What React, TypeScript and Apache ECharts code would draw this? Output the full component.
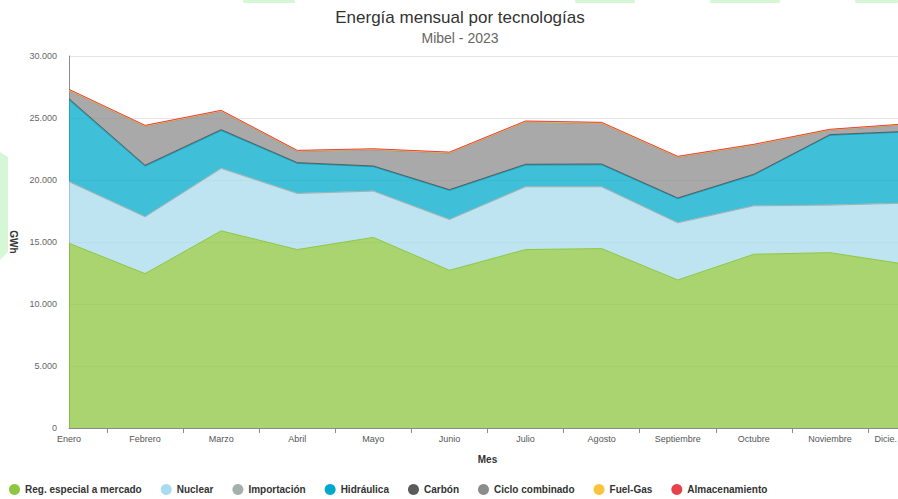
import React, { useEffect, useRef } from 'react';
import * as echarts from 'echarts';

const months = ['Enero', 'Febrero', 'Marzo', 'Abril', 'Mayo', 'Junio', 'Julio', 'Agosto', 'Septiembre', 'Octubre', 'Noviembre', 'Dicie.'];

const regEspecial = [14900, 12450, 15900, 14390, 15370, 12720, 14390, 14470, 11940, 14010, 14140, 13200];
const nuclear = [4940, 4570, 5020, 4510, 3720, 4080, 5050, 4970, 4590, 3890, 3820, 4920];
const importacion = [30, 20, 20, 20, 20, 20, 20, 20, 20, 20, 20, 20];
const hidraulica = [6580, 4060, 3040, 2420, 1960, 2340, 1740, 1760, 1940, 2480, 5620, 5730];
const carbon = [110, 90, 80, 60, 60, 60, 70, 70, 60, 60, 60, 50];
const cicloCombinado = [660, 3140, 1480, 920, 1310, 2950, 3400, 3270, 3280, 2340, 360, 540];
const fuelGas = [30, 30, 30, 30, 30, 30, 30, 30, 30, 30, 30, 30];
const almacenamiento = [60, 50, 50, 40, 50, 50, 60, 60, 50, 50, 40, 40];

const yTicks = [0, 5000, 10000, 15000, 20000, 25000, 30000];

const seriesDefs = [
  { name: 'Reg. especial a mercado', data: regEspecial, color: '#8dc63f' },
  { name: 'Nuclear', data: nuclear, color: '#a8dbee' },
  { name: 'Importación', data: importacion, color: '#a3b0ac' },
  { name: 'Hidráulica', data: hidraulica, color: '#00a9cb' },
  { name: 'Carbón', data: carbon, color: '#5b5b5b' },
  { name: 'Ciclo combinado', data: cicloCombinado, color: '#8c8c8c' },
  { name: 'Fuel-Gas', data: fuelGas, color: '#fbc43c' },
  { name: 'Almacenamiento', data: almacenamiento, color: '#e5434b' },
];

const fmtThousands = (v: number) => String(v).replace(/\B(?=(\d{3})+(?!\d))/g, '.');

export default function App() {
  const ref = useRef<HTMLDivElement>(null);
  useEffect(() => {
    if (!ref.current) return;
    const chart = echarts.init(ref.current, null, { renderer: 'svg' });
    const font = 'Liberation Sans, Arial, Helvetica, sans-serif';
    const last = months.length - 1;
    chart.setOption({
      animation: false,
      backgroundColor: '#ffffff',
      textStyle: { fontFamily: font },
      title: {
        text: 'Energía mensual por tecnologías',
        subtext: 'Mibel - 2023',
        left: 455,
        top: 4,
        textAlign: 'center',
        itemGap: 5,
        textStyle: { fontSize: 17, fontWeight: 'normal', color: '#333333', fontFamily: font },
        subtextStyle: { fontSize: 14, color: '#666666', fontFamily: font },
      },
      legend: {
        left: 9,
        top: 484,
        padding: 0,
        icon: 'circle',
        itemWidth: 11,
        itemHeight: 11,
        itemGap: 19,
        textStyle: { fontSize: 10, fontWeight: 'bold', color: '#333333', fontFamily: font },
        data: seriesDefs.map((s) => s.name),
      },
      graphic: [
        { type: 'polygon', shape: { points: [[0, 152], [8, 157], [8, 252], [0, 260]] }, style: { fill: '#d6f7d6' }, silent: true },
        { type: 'rect', shape: { x: 243, y: 0, width: 52, height: 3, r: 1 }, style: { fill: '#d6f7d6' }, silent: true },
        { type: 'rect', shape: { x: 575, y: 0, width: 60, height: 3, r: 1 }, style: { fill: '#d6f7d6' }, silent: true },
        { type: 'rect', shape: { x: 710, y: 0, width: 70, height: 3, r: 1 }, style: { fill: '#d6f7d6' }, silent: true },
        { type: 'rect', shape: { x: 855, y: 0, width: 43, height: 3, r: 1 }, style: { fill: '#d6f7d6' }, silent: true },
      ],
      grid: { left: 69, right: -8, top: 56, bottom: 71, containLabel: false, outerBoundsMode: 'none' },
      xAxis: [
        {
          type: 'category',
          data: months,
          boundaryGap: false,
          position: 'bottom',
          name: 'Mes',
          nameLocation: 'middle',
          nameGap: 26,
          nameTextStyle: { fontSize: 10, fontWeight: 'bold', color: '#333333', fontFamily: font },
          axisLine: { show: true, lineStyle: { color: '#8a8a8a', width: 1 } },
          axisTick: { show: false },
          splitLine: { show: false },
          axisLabel: {
            interval: 0,
            fontSize: 9,
            color: '#555555',
            margin: 6,
            alignMaxLabel: 'right',
            formatter: (v: string, i: number) => (i === last ? '{r|' + v + '}' : v),
            rich: { r: { fontSize: 9, color: '#555555', padding: [0, 9, 0, 0], fontFamily: font } },
          },
        },
        {
          type: 'value',
          min: 0,
          max: last,
          interval: 1,
          position: 'bottom',
          offset: 0,
          axisLine: { show: false },
          axisTick: { show: false },
          axisLabel: { show: false },
          splitLine: { show: false },
          minorTick: { show: true, splitNumber: 2, length: 5, lineStyle: { color: '#8a8a8a', width: 1 } },
          minorSplitLine: { show: false },
        },
      ],
      yAxis: {
        type: 'value',
        min: yTicks[0],
        max: yTicks[yTicks.length - 1],
        interval: yTicks[1] - yTicks[0],
        name: 'GWh',
        nameLocation: 'middle',
        nameGap: 48,
        nameRotate: -90,
        nameTextStyle: { fontSize: 10, fontWeight: 'bold', color: '#333333', fontFamily: font },
        axisLine: { show: true, lineStyle: { color: '#8a8a8a', width: 1 } },
        axisTick: { show: false },
        splitLine: { show: true, lineStyle: { color: '#e6e6e6', width: 1 } },
        axisLabel: { fontSize: 9, color: '#666666', margin: 12, formatter: (v: number) => fmtThousands(v) },
      },
      series: seriesDefs.map((s) => ({
        name: s.name,
        type: 'line',
        xAxisIndex: 0,
        yAxisIndex: 0,
        stack: 'total',
        data: s.data,
        showSymbol: false,
        symbol: 'none',
        color: s.color,
        itemStyle: { color: s.color },
        lineStyle: { color: s.color, width: 1 },
        areaStyle: { color: s.color, opacity: 0.75 },
      })),
    });
    return () => chart.dispose();
  }, []);
  return <div ref={ref} style={{ position: 'fixed', left: 0, top: 0, width: 898, height: 499 }} />;
}
